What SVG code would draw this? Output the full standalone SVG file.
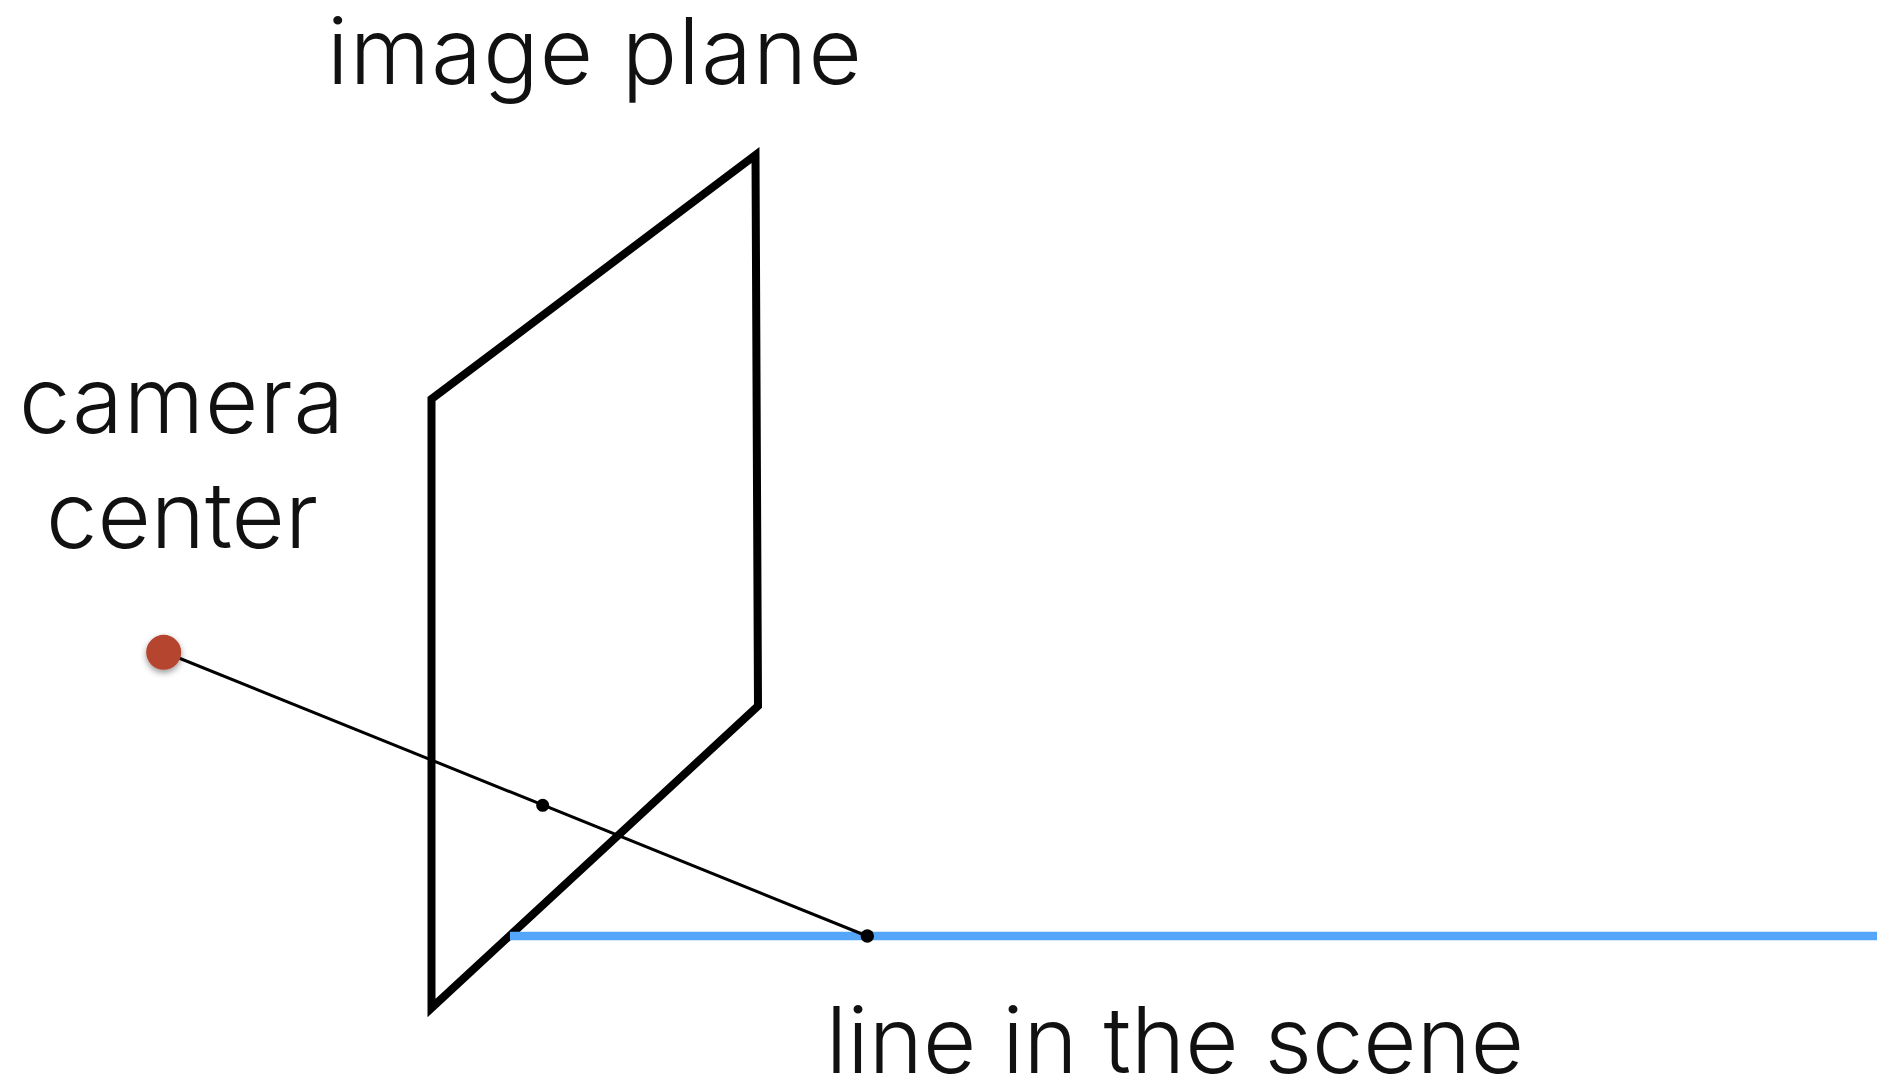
<svg xmlns="http://www.w3.org/2000/svg" width="1877" height="1085" viewBox="0 0 1877 1085">
<defs>
<filter id="sh" x="-50%" y="-50%" width="200%" height="200%"><feDropShadow dx="0" dy="3" stdDeviation="3" flood-color="#000" flood-opacity="0.4"/></filter>
</defs>
<style>
text{font-family:Inter,"Liberation Sans",sans-serif;font-weight:300;font-size:92px;fill:#111;text-anchor:middle}
.dot{fill:#000}
</style>
<rect width="1877" height="1085" fill="#fff"/>
<g id="image-plane"><polygon points="431.5,399 755.5,155 758,706 431.5,1008" fill="none" stroke="#000" stroke-width="8"/></g>
<g id="connectors">
<line id="scene-line" x1="510" y1="936" x2="1877" y2="936" stroke="#55a6fa" stroke-width="8.5"/>
<line id="ray" x1="164" y1="652" x2="867" y2="936" stroke="#000" stroke-width="3"/>
</g>
<g id="camera-center"><circle cx="163.7" cy="652.3" r="17.5" fill="#b5452f" filter="url(#sh)"/></g>
<g id="image-point"><circle class="dot" cx="542.7" cy="805.3" r="6.5"/></g>
<g id="scene-point"><circle class="dot" cx="867.3" cy="936" r="6.7"/></g>
<text x="595" y="84" letter-spacing="1.3">image plane</text>
<text x="182" y="433" letter-spacing="1">camera</text>
<text x="182" y="548">center</text>
<text x="1175" y="1073">line in the scene</text>
</svg>
